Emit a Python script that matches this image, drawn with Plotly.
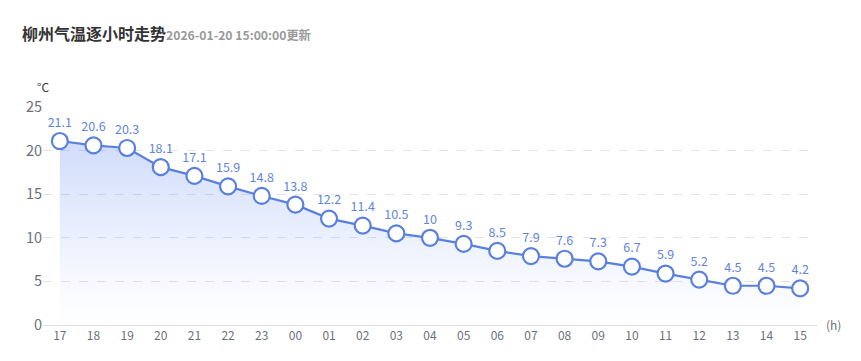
import plotly.graph_objects as go

hours = ["17","18","19","20","21","22","23","00","01","02","03","04","05","06","07","08","09","10","11","12","13","14","15"]
temps = [21.1,20.6,20.3,18.1,17.1,15.9,14.8,13.8,12.2,11.4,10.5,10,9.3,8.5,7.9,7.6,7.3,6.7,5.9,5.2,4.5,4.5,4.2]
labels = [("%g" % t) for t in temps]
yticks = [0, 5, 10, 15, 20, 25]

blue = "#5a80df"
L, R, T, B = 43, 44, 107, 36
PW, PH = 861 - L - R, 361 - T - B

fig = go.Figure()
fig.add_trace(go.Scatter(
    x=hours, y=temps, mode="lines+markers+text",
    text=labels, textposition="top center",
    textfont=dict(color="#5f86dc", size=12.5, family="Noto Sans CJK SC, sans-serif"),
    line=dict(color=blue, width=2.2),
    marker=dict(size=16, color="white", line=dict(color=blue, width=2.2)),
    fill="tozeroy",
    fillgradient=dict(type="vertical",
                      colorscale=[[0, "rgba(100,140,240,0.0)"], [0.3, "rgba(100,140,240,0.07)"],
                                  [1, "rgba(100,140,240,0.3)"]]),
    cliponaxis=False,
    hoverinfo="skip",
))

fig.update_layout(
    width=861, height=361,
    margin=dict(l=L, r=R, t=T, b=B),
    plot_bgcolor="white", paper_bgcolor="white",
    showlegend=False,
    font=dict(family="Noto Sans CJK SC, sans-serif", color="#6e7079"),
    xaxis=dict(type="category", showgrid=False, showline=True, linecolor="#dcdfe6",
               ticks="", tickfont=dict(size=12, color="#6e7079"), fixedrange=True,
               range=[-0.5, len(hours) - 0.5], automargin=False),
    yaxis=dict(range=[0, 25], tickvals=yticks, showgrid=True, gridcolor="#e0e3ea",
               griddash="dash", zeroline=False, showline=False,
               tickfont=dict(size=14.5, color="#6e7079"), ticks="", ticklen=0,
               fixedrange=True, automargin=False),
)
fig.add_annotation(
    x=(43 - L) / PW, y=1 + (T - 86) / PH, xref="paper", yref="paper",
    xanchor="center", yanchor="middle", text="°C", showarrow=False,
    font=dict(size=12, color="#333"),
)
fig.add_annotation(
    x=1 + (833 - (L + PW)) / PW, y=(361 - B - 324) / PH, xref="paper", yref="paper",
    xanchor="center", yanchor="middle", text="(h)", showarrow=False,
    font=dict(size=12, color="#6e7079"),
)
fig.add_annotation(
    x=(20 - L) / PW, y=1 + (T - 33) / PH, xref="paper", yref="paper",
    text="<b>柳州气温逐小时走势</b><span style='font-size:12.2px;color:#999'><b>2026-01-20 15:00:00更新</b></span>",
    showarrow=False, xanchor="left", yanchor="middle",
    font=dict(size=16, color="#333", family="Noto Sans CJK SC, sans-serif"),
)
fig.write_html("out.html", config={"displayModeBar": False},
               post_script="document.body.style.margin='0';document.body.style.overflow='hidden';")
